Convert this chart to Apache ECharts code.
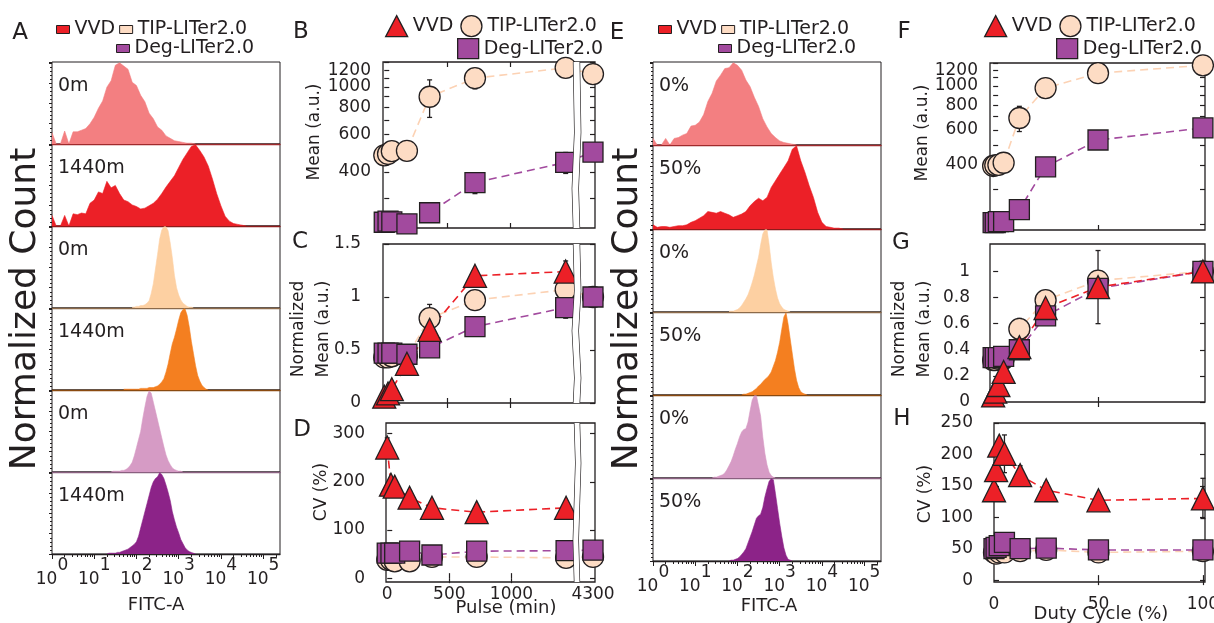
<!DOCTYPE html>
<html>
<head>
<meta charset="utf-8">
<script src="https://cdn.jsdelivr.net/npm/echarts@6.0.0/dist/echarts.min.js"></script>
<style>
html,body{margin:0;padding:0;background:#ffffff;}
#chart{width:1214px;height:623px;}
</style>
</head>
<body>
<div id="chart"></div>
<script>
// ======================= DATA =======================
// Flow-cytometry histograms: bins on log10(FITC-A), counts normalized to peak (=100)
const fitcDecades = [0, 1, 2, 3, 4, 5];
const fitcMinorMultipliers = [2, 3, 4, 5, 6, 7, 8, 9];
const histLabelsA = ['0m', '1440m', '0m', '1440m', '0m', '1440m'];
const histLabelsE = ['0%', '50%', '0%', '50%', '0%', '50%'];

const histA1Start = 0.0, histA1Step = 0.1;   // VVD 0m
const histA1 = [14,0,0,16,0,15,15,17,19,25,33,44,53,70,78,97,100,96,92,76,72,60,52,38,31,21,17,10,7,4,3,2,1,1,0];
const histA2Start = 0.0, histA2Step = 0.1;   // VVD 1440m
const histA2 = [13,0,0,13,0,15,14,16,15,28,32,42,40,55,47,50,40,32,30,26,24,21,22,25,28,33,40,48,55,62,72,82,90,98,100,93,85,74,58,40,25,12,6,3,2,1,0];
const histA3Start = 1.9, histA3Step = 0.05;  // TIP 0m
const histA3 = [1,1,2,2,3,3,4,6,9,18,30,48,66,85,96,100,100,95,80,62,40,25,16,10,6,4,2,1,1,0];
const histA4Start = 1.7, histA4Step = 0.05;  // TIP 1440m
const histA4 = [1,1,1,1,1,1,1,1,2,2,2,2,3,3,3,4,5,7,10,14,22,32,45,57,65,75,86,95,99,100,92,78,60,45,30,18,11,6,3,1,0];
const histA5Start = 1.4, histA5Step = 0.05;  // Deg 0m
const histA5 = [0,1,1,1,1,2,2,3,5,8,12,20,30,40,50,66,80,93,100,97,86,75,64,53,42,31,21,14,9,5,3,2,1,1,0];
const histA6Start = 1.3, histA6Step = 0.05;  // Deg 1440m
const histA6 = [0,1,1,1,1,2,2,3,4,5,6,8,10,12,15,22,32,42,52,62,72,82,89,93,95,100,98,93,85,76,66,52,42,33,26,18,13,8,5,3,2,1,0];

const histE1Start = 0.0, histE1Step = 0.1;   // VVD 0%
const histE1 = [8,0,0,8,0,8,9,12,14,23,24,28,37,53,63,78,85,93,94,100,97,91,79,71,58,47,32,22,14,9,5,3,2,1,0];
const histE2Start = 0.0, histE2Step = 0.1;   // VVD 50%
const histE2 = [5,2,3,3,2,3,4,4,5,8,10,13,16,21,20,19,21,19,17,14,16,18,21,28,33,37,34,38,50,58,66,74,82,96,100,82,68,52,38,20,8,3,2,1,1,0];
const histE3Start = 1.8, histE3Step = 0.05;  // TIP 0%
const histE3 = [1,1,1,2,3,5,8,12,16,21,28,36,45,56,67,82,95,100,100,82,60,42,28,17,10,6,3,2,1,0];
const histE4Start = 2.1, histE4Step = 0.05;  // TIP 50%
const histE4 = [0,1,1,2,3,4,6,8,11,13,16,19,21,24,28,35,42,52,64,80,95,100,86,68,50,32,18,9,4,2,1,0];
const histE5Start = 1.4, histE5Step = 0.05;  // Deg 0%
const histE5 = [0,1,1,2,3,4,6,10,15,20,27,35,42,50,56,59,60,68,82,95,100,100,88,75,50,30,16,7,3,1,0];
const histE6Start = 1.8, histE6Step = 0.05;  // Deg 50%
const histE6 = [0,1,1,2,3,5,8,11,15,22,29,36,44,52,55,57,65,78,88,97,100,99,82,64,46,30,16,7,2,1,0];

// Pulse experiment (B, C, D)
const pulseTimes = [0, 30, 60, 180, 360, 720, 1440, 4300];
const pulseTimesVVD = [0, 30, 60, 180, 360, 720, 1440];
const pulseXLabels = [0, 500, 1000, 4300];
const pulseMeanTIP = [478, 485, 500, 502, 900, 1100, 1230, 1150];
const pulseMeanTIPErr = [20, 20, 25, 30, 180, 120, 45, 30];
const pulseMeanDeg = [232, 235, 233, 228, 257, 356, 443, 495];
const pulseMeanDegErr = [8, 10, 8, 10, 10, 40, 50, 20];
const pulseNormVVD = [0.06, 0.09, 0.13, 0.37, 0.69, 1.2, 1.24];
const pulseNormVVDErr = [0.02, 0.02, 0.03, 0.05, 0.08, 0.05, 0.1];
const pulseNormTIP = [0.43, 0.43, 0.44, 0.44, 0.8, 0.97, 1.07, 1.0];
const pulseNormTIPErr = [0.03, 0.03, 0.03, 0.03, 0.13, 0.08, 0.22, 0.03];
const pulseNormDeg = [0.47, 0.47, 0.47, 0.46, 0.52, 0.72, 0.9, 1.0];
const pulseNormDegErr = [0.03, 0.03, 0.03, 0.03, 0.02, 0.05, 0.1, 0.03];
const pulseCvVVD = [271, 194, 190, 167, 146, 137, 146];
const pulseCvVVDErr = [20, 12, 10, 15, 5, 12, 6];
const pulseCvTIP = [38, 38, 35, 35, 44, 44, 42, 44];
const pulseCvTIPErr = [3, 3, 3, 3, 3, 3, 3, 3];
const pulseCvDeg = [52, 52, 52, 56, 48, 56, 57, 58];
const pulseCvDegErr = [3, 3, 5, 12, 2, 3, 3, 3];

// Duty-cycle experiment (F, G, H)
const dutyCycles = [0, 1, 2.5, 5, 12.5, 25, 50, 100];
const dutyXLabels = [0, 50, 100];
const dutyMeanTIP = [395, 398, 400, 410, 689, 975, 1159, 1270];
const dutyMeanTIPErr = [8, 8, 8, 10, 100, 25, 70, 20];
const dutyMeanDeg = [205, 205, 207, 207, 238, 391, 534, 614];
const dutyMeanDegErr = [5, 6, 6, 6, 18, 12, 30, 35];
const dutyNormVVD = [0.05, 0.08, 0.13, 0.23, 0.42, 0.72, 0.88, 1.0];
const dutyNormVVDErr = [0.02, 0.03, 0.03, 0.04, 0.06, 0.04, 0.28, 0.02];
const dutyNormTIP = [0.32, 0.32, 0.33, 0.33, 0.56, 0.78, 0.93, 1.0];
const dutyNormTIPErr = [0.02, 0.02, 0.02, 0.02, 0.08, 0.03, 0.03, 0.02];
const dutyNormDeg = [0.34, 0.34, 0.34, 0.35, 0.4, 0.66, 0.87, 1.0];
const dutyNormDegErr = [0.02, 0.02, 0.02, 0.02, 0.03, 0.03, 0.03, 0.02];
const dutyCvVVD = [143, 175, 214, 201, 167, 143, 127, 130];
const dutyCvVVDErr = [8, 8, 10, 30, 15, 12, 12, 32];
const dutyCvTIP = [44, 42, 44, 44, 46, 48, 44, 46];
const dutyCvTIPErr = [2, 2, 2, 2, 2, 2, 2, 2];
const dutyCvDeg = [50, 52, 55, 60, 50, 51, 48, 48];
const dutyCvDegErr = [3, 4, 6, 15, 3, 3, 3, 3];

// axis tick labels
const meanLabels = [400, 600, 800, 1000, 1200];
const meanTicksB = [300, 400, 500, 600, 700, 800, 900, 1000, 1100, 1200, 1300];
const meanTicksF = [200, 300, 400, 500, 600, 700, 800, 900, 1000, 1100, 1200, 1300];
const normLabelsC = [0, 0.5, 1, 1.5];
const normLabelsG = [0, 0.2, 0.4, 0.6, 0.8, 1];
const cvLabelsD = [0, 100, 200, 300];
const cvLabelsH = [0, 50, 100, 150, 200, 250];

// ======================= STYLE / BUILD =======================
const FONT = 'DejaVu Sans';
const TXT = '#231F20';
const C_VVD = '#EC2027', C_TIP = '#FDDCC4', C_DEG = '#A24A9E';
const C_TIP_LINE = '#FCD2B4';

const grids = [], xAxes = [], yAxes = [], series = [], graphics = [], legends = [];

function addGrid(left, top, width, height, bw) {
  grids.push({left, top, width, height, show: true, borderColor: TXT, borderWidth: bw,
    backgroundColor: 'rgba(0,0,0,0)', containLabel: false, outerBoundsMode: 'none'});
  return grids.length - 1;
}
function txt(x, y, text, size, style, el) {
  graphics.push(Object.assign({type: 'text', x, y, z: 100, silent: true,
    style: Object.assign({text, fontFamily: FONT, fontSize: size, fill: TXT, align: 'center', verticalAlign: 'middle'}, style || {})}, el || {}));
}
function histData(start, step, counts) {
  return counts.map((c, i) => [Math.round((start + i * step) * 1000) / 1000, c]);
}
const minorTickVals = [];
fitcDecades.forEach(d => fitcMinorMultipliers.forEach(m => { const v = d + Math.log10(m); if (v <= 5.4) minorTickVals.push(v); }));

function addHistPanel(left, top, width, height, start, step, counts, color, baseColor, label, isBottom) {
  const g = addGrid(left, top, width, height, 1);
  const xi = xAxes.length;
  xAxes.push({gridIndex: g, type: 'value', min: 0, max: 5.4, position: 'bottom',
    axisLine: {show: true, onZero: false, lineStyle: {color: baseColor, width: 1.4}},
    axisTick: isBottom ? {show: true, customValues: fitcDecades, length: 5, lineStyle: {color: TXT}} : {show: false},
    axisLabel: isBottom ? {show: true, customValues: fitcDecades, margin: 3, hideOverlap: false,
      formatter: v => '{b|10}{s|' + Math.round(v) + '}',
      rich: {b: {fontFamily: FONT, fontSize: 17, color: TXT, lineHeight: 17, padding: [14, 0, 0, 0], verticalAlign: 'top'},
             s: {fontFamily: FONT, fontSize: 17, color: TXT, lineHeight: 17, padding: [0, 0, 14, 0], verticalAlign: 'top'}}} : {show: false},
    splitLine: {show: false}});
  if (isBottom) {
    xAxes.push({gridIndex: g, type: 'value', min: 0, max: 5.4, position: 'bottom',
      axisLine: {show: false}, axisTick: {show: true, customValues: minorTickVals, length: 3, lineStyle: {color: TXT}},
      axisLabel: {show: false}, splitLine: {show: false}});
  }
  const yi = yAxes.length;
  yAxes.push({gridIndex: g, type: 'value', min: 0, max: 101, interval: 25,
    axisLine: {show: false}, axisLabel: {show: false}, splitLine: {show: false},
    axisTick: {show: true, length: 3, lineStyle: {color: TXT}},
    minorTick: {show: true, splitNumber: 5, length: 2, lineStyle: {color: TXT}}});
  series.push({type: 'line', name: 'hist ' + label, xAxisIndex: xi, yAxisIndex: yi,
    data: histData(start, step, counts), symbol: 'none', silent: true,
    lineStyle: {width: 0.6, color: color}, areaStyle: {color: color, opacity: 1}, itemStyle: {color: color}, z: 2});
  txt(left + 6, top + 24, label, 19, {align: 'left'});
}

// ---------- Panels A and E ----------
const hA = [[histA1Start, histA1Step, histA1], [histA2Start, histA2Step, histA2], [histA3Start, histA3Step, histA3],
            [histA4Start, histA4Step, histA4], [histA5Start, histA5Step, histA5], [histA6Start, histA6Step, histA6]];
const hE = [[histE1Start, histE1Step, histE1], [histE2Start, histE2Step, histE2], [histE3Start, histE3Step, histE3],
            [histE4Start, histE4Step, histE4], [histE5Start, histE5Step, histE5], [histE6Start, histE6Step, histE6]];
const histFill = ['#F37F81', '#EC2027', '#FDD0A2', '#F47F20', '#D69BC5', '#8C2388'];
const histBase = ['#A02A2C', '#8E1B1B', '#8C6A4A', '#8A4A10', '#8A6080', TXT];
const topsA = [62, 144, 226, 308, 390, 472, 554];
const topsE = [62, 145, 229, 312, 395, 478, 561];
for (let i = 0; i < 6; i++) {
  addHistPanel(52, topsA[i], 228, topsA[i + 1] - topsA[i], hA[i][0], hA[i][1], hA[i][2], histFill[i], histBase[i], histLabelsA[i], i === 5);
  addHistPanel(653, topsE[i], 228, topsE[i + 1] - topsE[i], hE[i][0], hE[i][1], hE[i][2], histFill[i], histBase[i], histLabelsE[i], i === 5);
}

// ---------- scatter panels ----------
const pulseBreaks = [{start: 1503, end: 4190, gap: '2.6%'}];
function addScatterPanel(c) {
  const g = addGrid(c.left, c.top, c.width, c.height, 1.3);
  const xi = xAxes.length;
  const base = {gridIndex: g, type: 'value', min: c.xMin, max: c.xMax, splitLine: {show: false}, axisLine: {show: false}};
  if (c.breaks) base.breaks = c.breaks;
  xAxes.push(Object.assign({}, base, {position: 'bottom',
    axisTick: {show: true, inside: true, length: 5, customValues: c.xTicks, lineStyle: {color: TXT, width: 1.2}},
    axisLabel: c.xLabels ? {show: true, customValues: c.xLabels, margin: c.xMargin, fontFamily: FONT, fontSize: 17, color: TXT,
      hideOverlap: false, showMinLabel: true, showMaxLabel: true,
      formatter: v => String(Math.round(v))} : {show: false},
    breakArea: {show: !!c.breaks, itemStyle: {color: '#ffffff', borderColor: TXT, borderWidth: 1.3, borderType: 'solid', opacity: 1},
      zigzagAmplitude: 1.2, zigzagMinSpan: 40, zigzagMaxSpan: 80}}));
  xAxes.push(Object.assign({}, base, {position: 'top',
    axisTick: {show: true, inside: true, length: 5, customValues: c.xTicks, lineStyle: {color: TXT, width: 1.2}},
    axisLabel: {show: false}, breakArea: {show: false}}));
  const yi = yAxes.length;
  const yb = {gridIndex: g, type: c.yType, min: c.yMin, max: c.yMax, splitLine: {show: false}, axisLine: {show: false}};
  if (c.yType === 'log') yb.logBase = 10;
  const fmt = v => c.yType === 'log' ? String(Math.round(v)) : String(+v.toFixed(2));
  const labStyle = {show: true, margin: c.yMargin, fontFamily: FONT, fontSize: 17, color: TXT,
    hideOverlap: false, showMinLabel: true, showMaxLabel: true, formatter: fmt};
  // labels split over two overlapping left axes so that close log labels are never culled
  yAxes.push(Object.assign({}, yb, {position: 'left',
    axisTick: {show: true, inside: true, length: 5, customValues: c.yTicks, lineStyle: {color: TXT, width: 1.2}},
    axisLabel: Object.assign({}, labStyle, {customValues: c.yLabels.filter((v, i) => i % 2 === 0)})}));
  yAxes.push(Object.assign({}, yb, {position: 'left', axisTick: {show: false},
    axisLabel: Object.assign({}, labStyle, {customValues: c.yLabels.filter((v, i) => i % 2 === 1)})}));
  yAxes.push(Object.assign({}, yb, {position: 'right',
    axisTick: {show: true, inside: true, length: 5, customValues: c.yTicks, lineStyle: {color: TXT, width: 1.2}},
    axisLabel: {show: false}}));
  return {xi, yi};
}

function renderErr(params, api) {
  const x = api.value(0), y = api.value(1), e = api.value(2);
  const p1 = api.coord([x, y + e]), p2 = api.coord([x, y - e]);
  const cw = 2.5, st = {stroke: TXT, lineWidth: 1.3};
  return {type: 'group', children: [
    {type: 'line', shape: {x1: p1[0], y1: p1[1], x2: p2[0], y2: p2[1]}, style: st},
    {type: 'line', shape: {x1: p1[0] - cw, y1: p1[1], x2: p1[0] + cw, y2: p1[1]}, style: st},
    {type: 'line', shape: {x1: p2[0] - cw, y1: p2[1], x2: p2[0] + cw, y2: p2[1]}, style: st}]};
}
const STY = {
  'VVD': {symbol: 'triangle', size: 23, fill: C_VVD, line: C_VVD},
  'TIP-LITer2.0': {symbol: 'circle', size: 21, fill: C_TIP, line: C_TIP_LINE},
  'Deg-LITer2.0': {symbol: 'rect', size: 20, fill: C_DEG, line: C_DEG}
};
function addMarkers(name, xs, ys, errs, ax) {
  const s = STY[name];
  series.push({type: 'line', name, xAxisIndex: ax.xi, yAxisIndex: ax.yi,
    data: xs.map((x, i) => [x, ys[i]]), symbol: s.symbol, symbolSize: s.size, showSymbol: true, clip: false,
    itemStyle: {color: s.fill, borderColor: TXT, borderWidth: 1.3},
    lineStyle: {color: s.line, width: 1.6, type: [8, 5]}, emphasis: {disabled: true}, z: 3});
  series.push({type: 'custom', name, xAxisIndex: ax.xi, yAxisIndex: ax.yi, renderItem: renderErr, clip: false,
    data: xs.map((x, i) => [x, ys[i], errs[i]]), encode: {x: 0, y: 1}, silent: true, z: 3});
}

// B
const axB = addScatterPanel({left: 383, top: 62, width: 212, height: 166, xMin: -10, xMax: 4316, breaks: pulseBreaks,
  xTicks: [500, 1000], yType: 'log', yMin: 218, yMax: 1310, yLabels: meanLabels, yTicks: meanTicksB, yMargin: 12});
addMarkers('TIP-LITer2.0', pulseTimes, pulseMeanTIP, pulseMeanTIPErr, axB);
addMarkers('Deg-LITer2.0', pulseTimes, pulseMeanDeg, pulseMeanDegErr, axB);
// C
const axC = addScatterPanel({left: 383, top: 244, width: 212, height: 159, xMin: -10, xMax: 4316, breaks: pulseBreaks,
  xTicks: [500, 1000], yType: 'value', yMin: 0, yMax: 1.5, yLabels: normLabelsC, yTicks: normLabelsC, yMargin: 22});
addMarkers('TIP-LITer2.0', pulseTimes, pulseNormTIP, pulseNormTIPErr, axC);
addMarkers('Deg-LITer2.0', pulseTimes, pulseNormDeg, pulseNormDegErr, axC);
addMarkers('VVD', pulseTimesVVD, pulseNormVVD, pulseNormVVDErr, axC);
// D
const axD = addScatterPanel({left: 386, top: 423, width: 209, height: 159, xMin: -10, xMax: 4316, breaks: pulseBreaks,
  xTicks: [500, 1000], xLabels: pulseXLabels, xMargin: 4, yType: 'value', yMin: -8, yMax: 322, yLabels: cvLabelsD, yTicks: cvLabelsD, yMargin: 21});
addMarkers('TIP-LITer2.0', pulseTimes, pulseCvTIP, pulseCvTIPErr, axD);
addMarkers('Deg-LITer2.0', pulseTimes, pulseCvDeg, pulseCvDegErr, axD);
addMarkers('VVD', pulseTimesVVD, pulseCvVVD, pulseCvVVDErr, axD);
// F
const axF = addScatterPanel({left: 990, top: 63, width: 215, height: 167, xMin: -1.5, xMax: 101,
  xTicks: [50], yType: 'log', yMin: 188, yMax: 1304, yLabels: meanLabels, yTicks: meanTicksF, yMargin: 12});
addMarkers('TIP-LITer2.0', dutyCycles, dutyMeanTIP, dutyMeanTIPErr, axF);
addMarkers('Deg-LITer2.0', dutyCycles, dutyMeanDeg, dutyMeanDegErr, axF);
// G
const axG = addScatterPanel({left: 990, top: 244, width: 215, height: 158, xMin: -1.5, xMax: 101,
  xTicks: [50], yType: 'value', yMin: 0, yMax: 1.21, yLabels: normLabelsG, yTicks: normLabelsG, yMargin: 20});
addMarkers('TIP-LITer2.0', dutyCycles, dutyNormTIP, dutyNormTIPErr, axG);
addMarkers('Deg-LITer2.0', dutyCycles, dutyNormDeg, dutyNormDegErr, axG);
addMarkers('VVD', dutyCycles, dutyNormVVD, dutyNormVVDErr, axG);
// H
const axH = addScatterPanel({left: 994, top: 423, width: 211, height: 159, xMin: 0, xMax: 101,
  xTicks: [50, 100], xLabels: dutyXLabels, xMargin: 14, yType: 'value', yMin: -3, yMax: 250, yLabels: cvLabelsH, yTicks: cvLabelsH, yMargin: 21});
addMarkers('TIP-LITer2.0', dutyCycles, dutyCvTIP, dutyCvTIPErr, axH);
addMarkers('Deg-LITer2.0', dutyCycles, dutyCvDeg, dutyCvDegErr, axH);
addMarkers('VVD', dutyCycles, dutyCvVVD, dutyCvVVDErr, axH);

// ---------- legends ----------
function legendRow(left, top, items, w, h, gap) {
  legends.push({left, top, orient: 'horizontal', selectedMode: false, itemWidth: w, itemHeight: h, itemGap: gap, padding: 0,
    textStyle: {fontFamily: FONT, fontSize: 19, color: TXT}, data: items});
}
const rectItem = (name, color) => ({name, icon: 'rect', itemStyle: {color, borderColor: TXT, borderWidth: 1}});
const symItem = (name) => ({name, icon: STY[name].symbol, itemStyle: {color: STY[name].fill, borderColor: TXT, borderWidth: 1.3}});
legendRow(56, 20, [rectItem('VVD', C_VVD), rectItem('TIP-LITer2.0', C_TIP)], 13, 8, 4);
legendRow(116, 39, [rectItem('Deg-LITer2.0', C_DEG)], 13, 8, 4);
legendRow(658, 20, [rectItem('VVD', C_VVD), rectItem('TIP-LITer2.0', C_TIP)], 13, 8, 4);
legendRow(718, 39, [rectItem('Deg-LITer2.0', C_DEG)], 13, 8, 4);
legendRow(385, 15, [symItem('VVD'), symItem('TIP-LITer2.0')], 22, 21, 7);
legendRow(457, 38, [symItem('Deg-LITer2.0')], 21, 20, 7);
legendRow(984, 15, [symItem('VVD'), symItem('TIP-LITer2.0')], 22, 21, 7);
legendRow(1056, 38, [symItem('Deg-LITer2.0')], 21, 20, 7);

// ---------- texts ----------
const ROT = {rotation: Math.PI / 2};
[['A', 20, 33], ['B', 301, 32], ['C', 300, 242], ['D', 302, 430], ['E', 617, 33], ['F', 904, 32], ['G', 901, 243], ['H', 902, 419]]
  .forEach(l => txt(l[1], l[2], l[0], 23));
txt(26, 309, 'Normalized Count', 36, null, ROT);
txt(628, 309, 'Normalized Count', 36, null, ROT);
txt(156, 605, 'FITC-A', 18);
txt(769, 606, 'FITC-A', 18);
txt(315, 132, 'Mean (a.u.)', 17, null, ROT);
txt(311, 329, 'Normalized\nMean (a.u.)', 17, {lineHeight: 25}, ROT);
txt(322, 492, 'CV (%)', 17, null, ROT);
txt(923, 133, 'Mean (a.u.)', 17, null, ROT);
txt(912, 329, 'Normalized\nMean (a.u.)', 17, {lineHeight: 25}, ROT);
txt(926, 494, 'CV (%)', 17, null, ROT);
txt(506, 608, 'Pulse (min)', 18);
txt(1101, 614, 'Duty Cycle (%)', 18);

const chart = echarts.init(document.getElementById('chart'), null, {renderer: 'canvas'});
chart.setOption({
  animation: false,
  backgroundColor: '#ffffff',
  textStyle: {fontFamily: FONT},
  grid: grids, xAxis: xAxes, yAxis: yAxes, series: series, legend: legends, graphic: graphics
});
</script>
</body>
</html>
